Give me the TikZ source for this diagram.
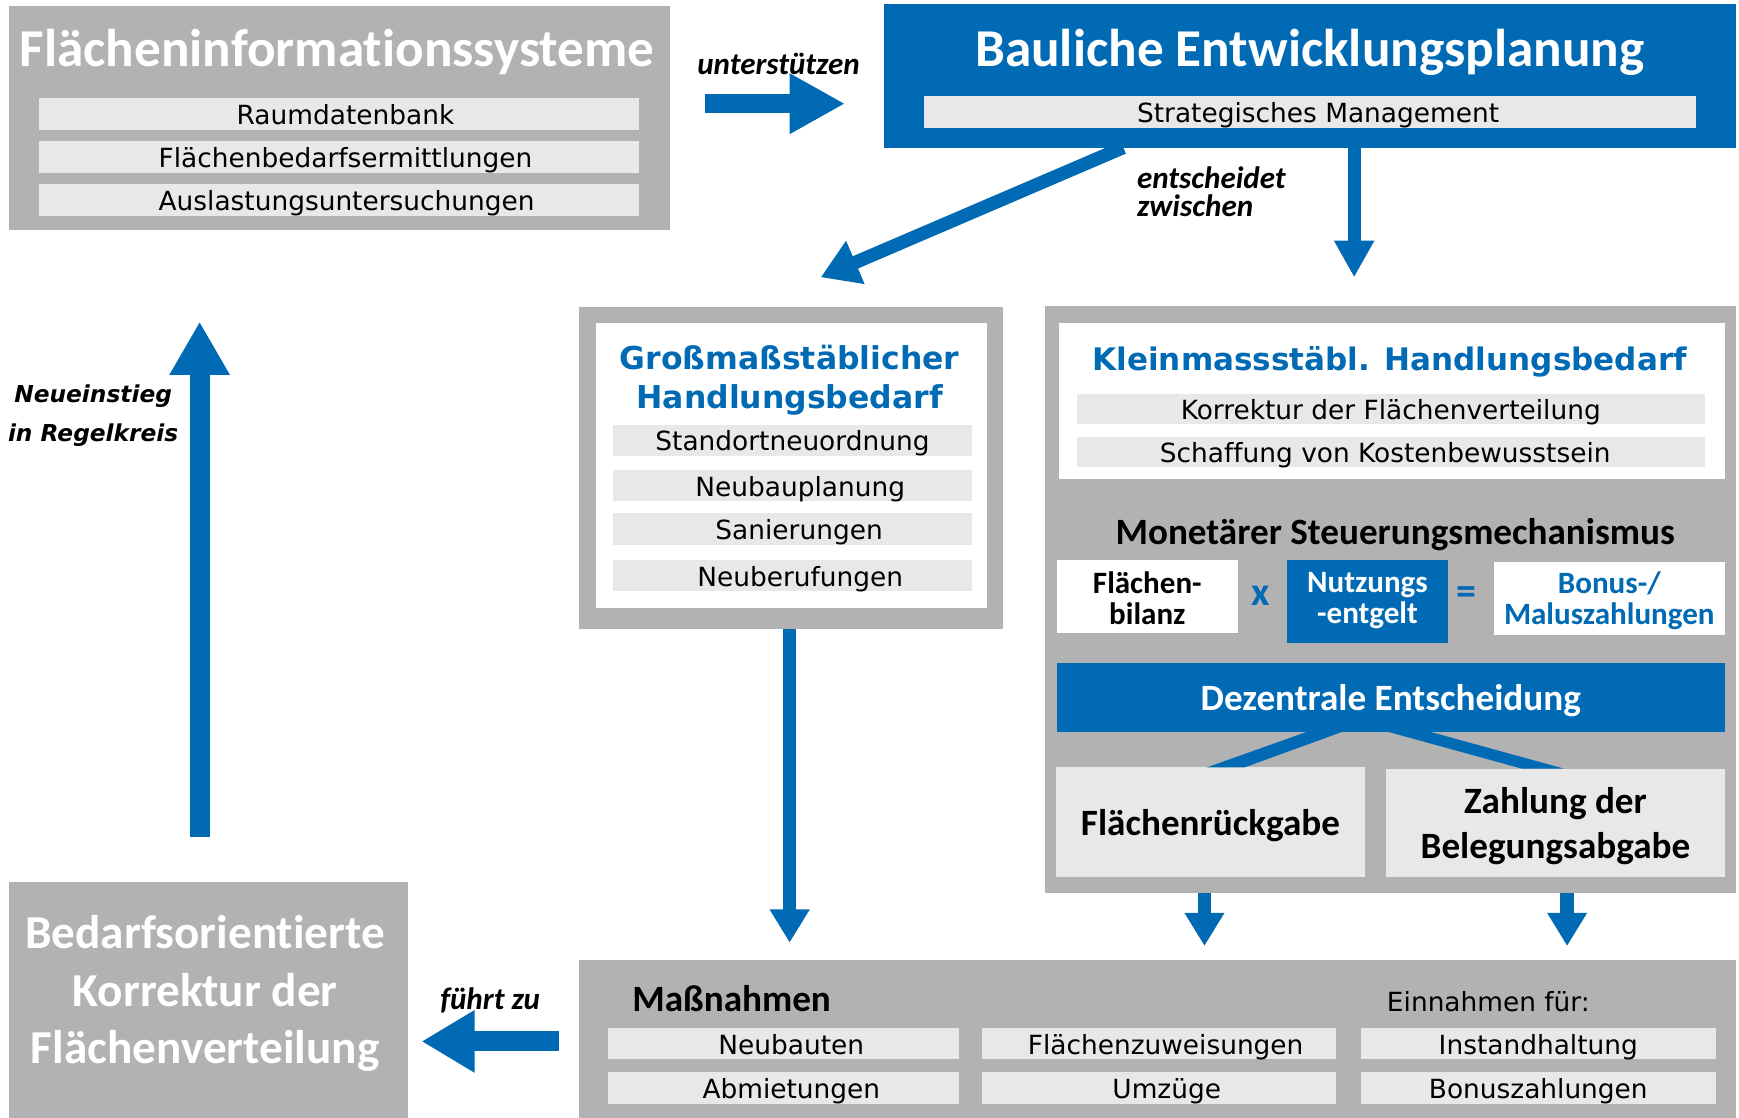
\documentclass[tikz,border=0pt]{standalone}
\usepackage{fontspec}
\setmainfont{DejaVu Sans}
\newfontfamily\calfont[Ligatures=NoCommon]{Carlito}
\newfontfamily\verdfont[Ligatures=NoCommon]{DejaVu Sans}
\usetikzlibrary{arrows.meta,calc}
\definecolor{bl}{RGB}{0,106,180}
\definecolor{gr}{RGB}{178,178,178}
\definecolor{lg}{RGB}{232,232,232}
\tikzset{
  rct/.style 2 args={inner sep=0pt, outer sep=0pt, anchor=north west, minimum width=#1pt, minimum height=#2pt},
  gbox/.style={fill=gr},
  wbox/.style={fill=white},
  bbox/.style={fill=bl},
  lbar/.style={fill=lg, font=\verdfont\fontsize{23.8}{26}\selectfont, text height=19pt, text depth=0pt},
  bigtitle/.style={font=\calfont\bfseries\fontsize{48}{50}\selectfont, text=white, inner sep=0pt, text depth=0pt},
  cb/.style={font=\calfont\bfseries\fontsize{#1}{#1}\selectfont, inner sep=0pt},
  lab/.style={font=\calfont\bfseries\itshape\fontsize{28}{25}\selectfont, inner sep=0pt},
  arr/.style n args={3}{draw=bl, line width=#1pt, -{Triangle[length=#3pt,width=#2pt]}},
}
\newcommand\rs[1]{\hspace*{#1pt}}
\begin{document}
\begin{tikzpicture}[x=1pt,y=-1pt]
\useasboundingbox (0,0) rectangle (1568,1008);
\fill[white] (0,0) rectangle (1568,1008);

% A
\node[rct={596}{202}, gbox] (A) at (8,5) {};
\node[bigtitle] (At) at (304,43) {Flächeninformationssysteme};
\node[rct={541}{29}, lbar] (A1) at (35,88) {\rs{12}Raumdatenbank};
\node[rct={541}{29}, lbar] (A2) at (35,127) {\rs{12}Flächenbedarfsermittlungen};
\node[rct={541}{29}, lbar] (A3) at (35,166) {\rs{14}Auslastungsuntersuchungen};

% B
\node[rct={768}{129}, bbox] (B) at (797,4) {};
\node[bigtitle] (Bt) at (1181,43) {Bauliche Entwicklungsplanung};
\node[rct={696}{28}, lbar] (B1) at (833,87) {\rs{15}Strategisches Management};

% C
\node[rct={382}{290}, gbox] (C) at (522,277) {};
\node[rct={353}{257}, wbox] (Cw) at (537,291) {};
\node[font=\verdfont\bfseries\fontsize{28.4}{35}\selectfont, text=bl, align=center, inner sep=0pt] (Ct) at (712,343) {Großmaßstäblicher\\Handlungsbedarf};
\node[rct={323}{28}, lbar] (C1) at (553,383) {Standortneuordnung};
\node[rct={323}{28}, lbar] (C2) at (553,424) {\rs{14}Neubauplanung};
\node[rct={323}{28}, lbar] (C3) at (553,463) {\rs{12}Sanierungen};
\node[rct={323}{28}, lbar] (C4) at (553,505) {\rs{14}Neuberufungen};

% D
\node[rct={623}{529}, gbox] (D) at (942,276) {};
\node[rct={600}{141}, wbox] (Dw) at (955,291) {};
\node[font=\verdfont\bfseries\fontsize{28}{30}\selectfont, text=bl, inner sep=0pt, text depth=0pt] (Dt) at (1253,323) {Kleinmassstäbl. Handlungsbedarf};
\node[rct={566}{27}, lbar] (D1) at (971,355) {Korrektur der Flächenverteilung};
\node[rct={566}{27}, lbar] (D2) at (971,394) {Schaffung von Kostenbewusstsein\rs{10}};
\node[cb=33.5, text depth=0pt] (Mt) at (1258,479) {Monetärer Steuerungsmechanismus};
\node[rct={163}{66}, wbox] (Fb) at (953,505) {};
\node[cb=28, align=center] (Fbt) at ($(Fb.center)+(0,1)$) {Flächen-\\bilanz};
\node[cb=36, text=bl] (xop) at (1137,537) {x};
\node[rct={146}{75}, bbox] (Ne) at (1160,505) {};
\node[cb=28, text=white, align=center] (Net) at ($(Ne.center)+(0,-1)$) {Nutzungs\\-entgelt};
\node[cb=36, text=bl] (eqop) at (1322,537) {=};
\node[rct={208}{66}, wbox] (Bm) at (1347,507) {};
\node[cb=28, text=bl, align=center] (Bmt) at ($(Bm.center)+(0,2)$) {Bonus-/\\Maluszahlungen};
\node[rct={602}{62}, bbox, cb=33.5, text=white, text depth=0pt] (Dz) at (953,598) {Dezentrale Entscheidung};
\node[rct={279}{99}, fill=lg, cb=33.5, text depth=0pt] (FR) at (952,692) {Flächenrückgabe};
\node[rct={305}{98}, fill=lg] (ZB) at (1250,693) {};
\node[align=center, font=\calfont\bfseries\fontsize{33.5}{40}\selectfont, inner sep=0pt] (ZBt) at ($(ZB.center)+(0,3)$) {Zahlung der\\Belegungsabgabe};

% wedges
\fill[bl] ($(Dz.south)+(-76,0)$) -- ($(Dz.south)+(-44,0)$) -- ($(FR.north)+(30.5,0)$) -- ($(FR.north)+(-3.5,0)$) -- cycle;
\fill[bl] ($(Dz.south)+(-2,0)$) -- ($(Dz.south)+(36,0)$) -- ($(ZB.north)+(7.5,0)$) -- ($(ZB.north)+(-30.5,0)$) -- cycle;

% E
\node[rct={1043}{142}, gbox] (E) at (522,866) {};
\node[cb=33.5, anchor=west, text depth=0pt] (Et) at (570,900) {Maßnahmen};
\node[font=\verdfont\fontsize{23.8}{26}\selectfont, inner sep=0pt, text depth=0pt] (Ein) at (1342,903) {Einnahmen für:};
\node[rct={317}{28}, lbar] (E1) at (548,927) {\rs{14}Neubauten};
\node[rct={317}{28}, lbar] (E2) at (548,967) {\rs{14}Abmietungen};
\node[rct={320}{28}, lbar] (E3) at (885,927) {\rs{12}Flächenzuweisungen};
\node[rct={320}{28}, lbar] (E4) at (885,967) {\rs{14}Umzüge};
\node[rct={320}{28}, lbar] (E5) at (1227,927) {Instandhaltung};
\node[rct={320}{28}, lbar] (E6) at (1227,967) {Bonuszahlungen};

% F
\node[rct={360}{213}, gbox] (F) at (8,795) {};
\node[font=\calfont\bfseries\fontsize{42.6}{52}\selectfont, text=white, align=center, inner sep=0pt] (Ft) at (185,896) {Bedarfsorientierte\\Korrektur der\\Flächenverteilung};

% coordinates
\coordinate (u1) at (636,93.5);
\coordinate (u2) at (762,93.5);
\coordinate (ctip) at (740,250);
\coordinate (dtip) at (1221,250);
\coordinate (etip) at (712,850);
\coordinate (e1tip) at (1086,853);
\coordinate (e2tip) at (1413,853);
\coordinate (f1) at (504,939);
\coordinate (f2) at (380,939);
\coordinate (n1) at (180,755);
\coordinate (n2) at (180,290);

% connectors
\draw[arr={17}{51}{50}] (u1) -- (u2);
\draw[arr={12}{40}{34}] ($(B.south west)!0.281!(B.south east)$) -- (ctip);
\draw[arr={12}{34}{33}] (dtip |- B.south) -- (dtip);
\draw[arr={12}{34}{30}] (etip |- C.south) -- (etip);
\draw[arr={12}{34}{30}] (e1tip |- D.south) -- (e1tip);
\draw[arr={12}{34}{30}] (e2tip |- D.south) -- (e2tip);
\draw[arr={18}{53}{48}] (f1) -- (f2);
\draw[arr={18}{51}{48}] (n1) -- (n2);

% labels
\node[lab] (l1) at (702,58) {unterstützen};
\node[lab, align=left, anchor=north west] (l2) at (1025,150) {entscheidet\\zwischen};
\node[lab] (l3) at (442,902) {führt zu};
\node[font=\verdfont\bfseries\itshape\fontsize{21}{35}\selectfont, align=center, inner sep=0pt] (l4) at (84,375) {Neueinstieg\\in Regelkreis};
\end{tikzpicture}
\end{document}
